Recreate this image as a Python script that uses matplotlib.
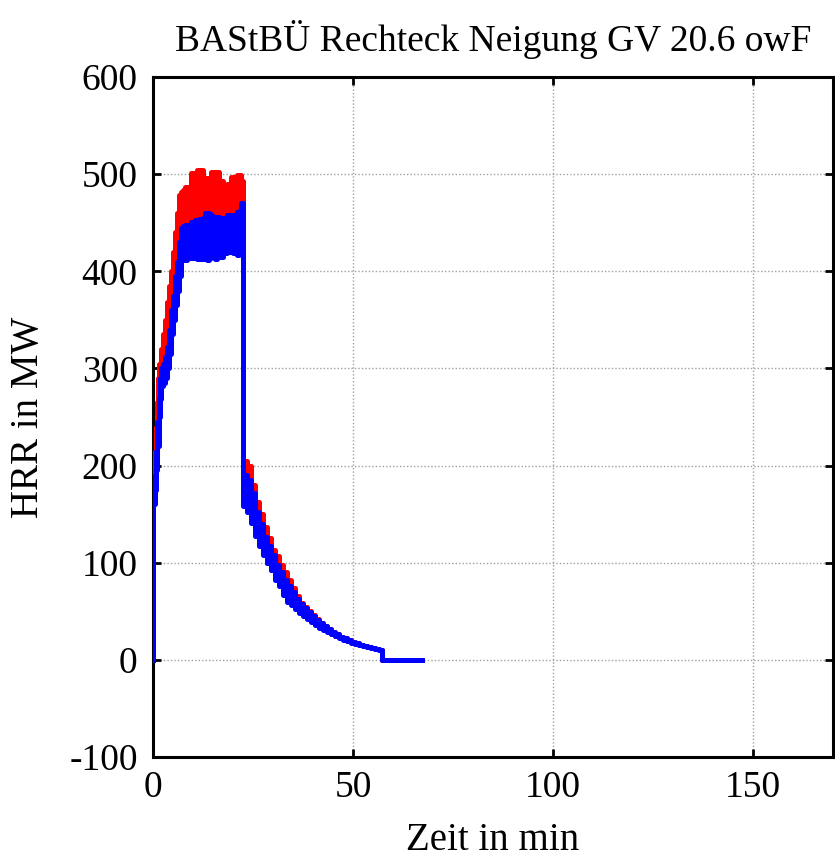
import matplotlib
matplotlib.use("Agg")
import matplotlib.pyplot as plt

# time in min
t_red = [0, 0.1, 0.4, 0.7, 1.0, 1.3, 1.6, 2.0, 2.5, 3.0, 3.5, 4.0, 4.5, 5.0, 5.5, 6.0, 6.5,
         7.0, 7.5, 8.0, 8.5, 9.0, 9.5, 10.0, 10.5, 11.0, 11.5, 12.0, 12.5, 13.0, 13.5, 14.0,
         14.5, 15.0, 15.5, 16.0, 16.5, 17.0, 17.5, 18.0, 18.5, 19.0, 19.5, 20.0, 20.5, 21.0,
         21.5, 22.0, 22.5,
         22.6, 23.5, 24.5, 25.5, 26.5, 27.5, 28.5, 29.5, 30.5, 31.5, 32.5, 33.5, 34.5, 35.5,
         36.5, 37.5, 38.5, 39.5, 40.5, 41.5, 42.5, 43.5, 44.5, 45.5, 46.5, 47.5, 48.5, 49.5,
         50.5, 51.5, 52.5, 53.5, 54.5, 55.5, 56.5, 57.3, 67.2]
red_hi = [0, 190, 215, 240, 265, 290, 305, 320, 335, 350, 368, 385, 400, 420, 440, 460, 478,
          482, 484, 487, 487, 487, 501, 501, 494, 504, 504, 504, 491, 496, 496, 496,
          502, 502, 502, 502, 493, 493, 489, 489, 490, 490, 497, 497, 497, 499,
          499, 493, 493,
          205, 200, 180, 162, 150, 137, 125, 113, 107, 98, 90, 82, 74, 66,
          59, 54, 50, 46, 42, 38, 35, 32, 29, 26.5, 24, 22, 20, 18.5,
          17, 15.5, 14.5, 13.5, 12.5, 11.5, 10.5, 0, 0]
red_lo = [0, 170, 195, 220, 245, 270, 290, 300, 315, 330, 348, 365, 380, 398, 415, 430, 440,
          445, 447, 448, 446, 448, 451, 450, 453, 452, 454, 451, 455, 458, 460, 459,
          456, 455, 454, 455, 454, 453, 454, 455, 456, 457, 458, 457, 458, 461,
          462, 468, 468,
          165, 160, 145, 132, 120, 110, 100, 92, 85, 78, 70, 64, 60, 55,
          50, 46, 43, 40, 37, 34, 32, 29.5, 27, 25, 23, 21, 19.5, 18,
          16.5, 15, 14, 13, 12, 11, 10, 0, 0]

t_blue = [0, 0.1, 0.5, 0.8, 1.1, 1.4, 1.7, 2.0, 2.5, 3.0, 3.5, 4.0, 4.5, 5.0, 5.5, 6.0, 6.5,
          7.0, 7.5, 8.0, 8.5, 9.0, 9.5, 10.0, 10.5, 11.0, 11.5, 12.0, 12.5, 13.0, 13.5, 14.0,
          14.5, 15.0, 15.5, 16.0, 16.5, 17.0, 17.5, 18.0, 18.5, 19.0, 19.5, 20.0, 20.5, 21.0,
          21.5, 22.0, 22.5,
          22.6, 23.5, 24.5, 25.5, 26.5, 27.5, 28.5, 29.5, 30.5, 31.5, 32.5, 33.5, 34.5, 35.5,
          36.5, 37.5, 38.5, 39.5, 40.5, 41.5, 42.5, 43.5, 44.5, 45.5, 46.5, 47.5, 48.5, 49.5,
          50.5, 51.5, 52.5, 53.5, 54.5, 55.5, 56.5, 57.3, 67.2]
blue_hi = [0, 175, 190, 215, 245, 270, 290, 300, 305, 312, 322, 340, 360, 375, 395, 410, 430,
           445, 447, 448, 446, 448, 451, 451, 453, 452, 454, 451, 455, 460, 460, 459,
           457, 456, 455, 456, 455, 453, 455, 455, 458, 458, 458, 458, 458, 461,
           462, 470, 470,
           190, 185, 172, 152, 140, 126, 117, 108, 98, 90, 82, 76, 70, 63,
           57, 53, 49, 45, 41, 37.5, 34.5, 31.5, 29, 26.5, 24, 22, 20, 18.5,
           17, 15.5, 14.5, 13.5, 12.5, 11.5, 10.5, 0, 0]
blue_lo = [0, 160, 175, 195, 220, 250, 268, 282, 285, 290, 300, 315, 335, 350, 365, 380, 395,
           412, 418, 412, 416, 414, 416, 414, 417, 413, 416, 413, 414, 413, 412, 414,
           415, 416, 413, 415, 416, 415, 420, 419, 421, 420, 422, 419, 421, 417,
           420, 418, 418,
           158, 152, 141, 127, 117, 108, 100, 92, 82, 76, 67, 60, 56, 52,
           48, 45, 42, 39, 36, 33, 31, 28.5, 26.5, 24.5, 22.5, 20.5, 19, 17.5,
           16.5, 15, 14, 13, 12, 11, 10, 0, 0]

x_ticks = [0, 50, 100, 150]
y_ticks = [-100, 0, 100, 200, 300, 400, 500, 600]

plt.rcParams['font.family'] = ['Liberation Serif', 'DejaVu Serif']
plt.rcParams['axes.unicode_minus'] = False

fig = plt.figure(figsize=(8.35, 8.6), dpi=100)
ax = fig.add_axes([0.1832, 0.1198, 0.8144, 0.7907])

for t, lo, hi, col in [(t_red, red_lo, red_hi, '#ff0000'), (t_blue, blue_lo, blue_hi, '#0000ff')]:
    ax.fill_between(t, lo, hi, step='post', color=col, lw=0, zorder=3)
    ax.plot(t, hi, drawstyle='steps-post', color=col, lw=3.6, zorder=3)
    ax.plot(t, lo, drawstyle='steps-post', color=col, lw=3.6, zorder=3)

ax.set_xlim(0, 170)
ax.set_ylim(-100, 600)
ax.set_xticks(x_ticks)
ax.set_yticks(y_ticks)
ax.grid(True, color='#a0a0a0', linestyle=(0, (1, 1.5)), linewidth=1.0, zorder=1)
ax.tick_params(direction='in', length=6, width=2, top=True, right=True, labelsize=27)
ax.tick_params(axis='x', pad=10)
ax.tick_params(axis='y', pad=11)
for s in ax.spines.values():
    s.set_linewidth(2.2)

ax.set_xlabel('Zeit in min', fontsize=28, labelpad=12)
ax.set_ylabel('HRR in MW', fontsize=28, labelpad=16)
ax.set_title('BAStBÜ Rechteck Neigung GV 20.6 owF', fontsize=27, pad=19)

fig.savefig('out.png', dpi=100)
